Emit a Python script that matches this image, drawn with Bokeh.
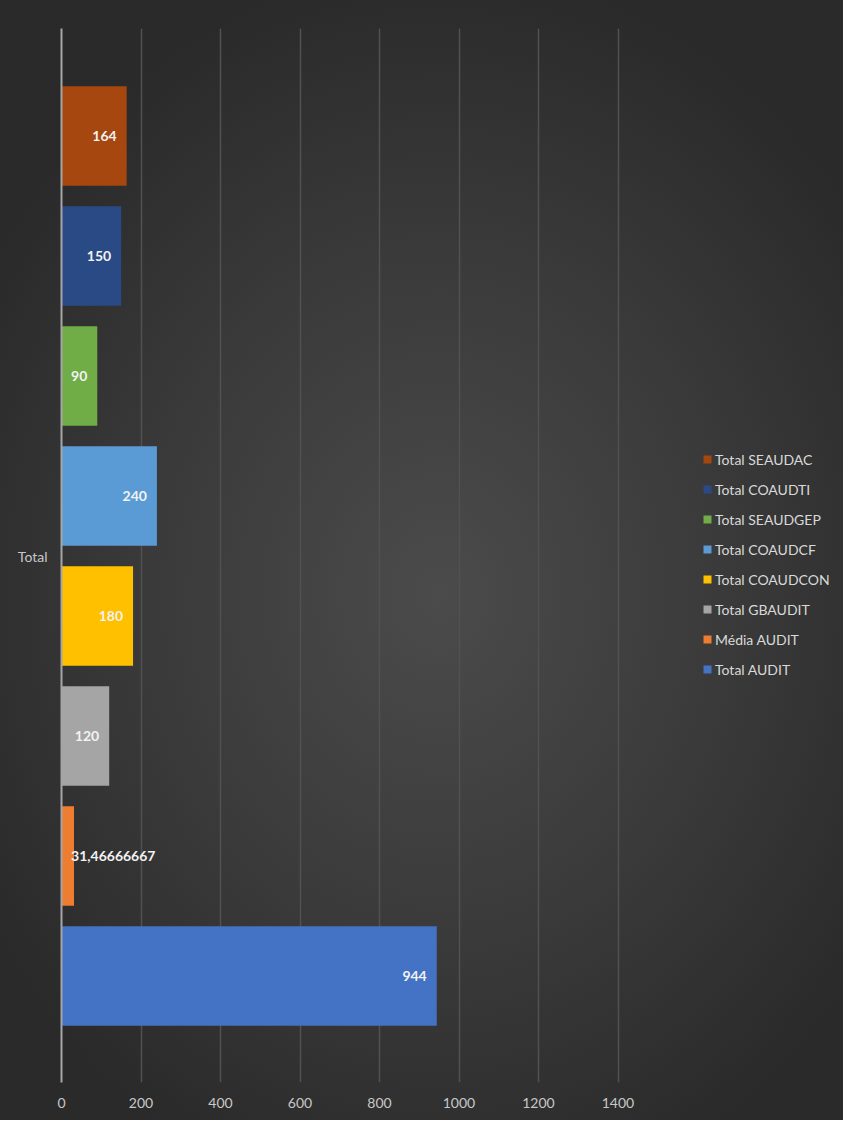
from bokeh.plotting import figure
from bokeh.models import ColumnDataSource, Range1d, FixedTicker, Legend, LegendItem
from bokeh.core.properties import value
from bokeh.embed import file_html
from bokeh.resources import INLINE

# ---- data (legend order, top to bottom) ----
series = ["Total SEAUDAC", "Total COAUDTI", "Total SEAUDGEP", "Total COAUDCF",
          "Total COAUDCON", "Total GBAUDIT", "Média AUDIT", "Total AUDIT"]
values = [164, 150, 90, 240, 180, 120, 31.46666667, 944]
colors = ["#A5470F", "#2A4A86", "#70AD47", "#5B9BD5",
          "#FFC000", "#A5A5A5", "#ED7D31", "#4472C4"]
category = "Total"
x_ticks = [0, 200, 400, 600, 800, 1000, 1200, 1400]


def fmt(v):
    s = ("%.8f" % v).rstrip("0").rstrip(".")
    if "." in s:
        ip, fp = s.split(".")
        s = ip + "," + fp[: max(0, 10 - len(ip))]
    return s


idx = list(range(len(series)))
labels = [fmt(v) for v in values]
aligns = ["left" if v < 60 else "right" for v in values]
offsets = [-3 if v < 60 else -10 for v in values]

src = ColumnDataSource(dict(y=idx, v=values, c=colors, name=series,
                            lab=labels, al=aligns, off=offsets))

W, H = 843, 1120
FRAME_LEFT = 61
# frame spans to the right edge so the legend (drawn inside it) is not clipped;
# the scale keeps 200 units ~ 79.5 px like the reference
X_END = (W - FRAME_LEFT) / (79.5 / 200)

p = figure(width=W, height=H, output_backend="svg", toolbar_location=None,
           x_range=Range1d(0, X_END), y_range=Range1d(7.887, -0.896),
           min_border_left=FRAME_LEFT, min_border_right=0, min_border_top=28,
           min_border_bottom=38)

p.styles = {"background-image":
            "radial-gradient(ellipse 62% 56% at 52% 53%, #4b4b4b 0%, #3a3a3a 55%, #2a2a2a 100%)"}
p.border_fill_alpha = 0
p.background_fill_alpha = 0
p.outline_line_color = None

bars = p.hbar(y="y", left=0, right="v", height=0.83, fill_color="c",
              line_color=None, source=src)

p.text(x="v", y="y", text="lab", text_align="al", x_offset="off",
       text_baseline="middle", text_color="#f2f2f2", text_font=value("Lato"),
       text_font_size="14px", text_font_style="bold", source=src)

# axes
xa = p.xaxis[0]
xa.ticker = FixedTicker(ticks=x_ticks)
xa.axis_line_color = None
xa.major_tick_line_color = None
xa.minor_tick_line_color = None
xa.major_tick_out = 0
xa.major_tick_in = 0
xa.major_label_standoff = 15
xa.major_label_text_color = "#c8c8c8"
xa.major_label_text_font = "Lato"
xa.major_label_text_font_size = "14px"

ya = p.yaxis[0]
ya.ticker = FixedTicker(ticks=[3.5])
ya.major_label_overrides = {3.5: category}
ya.axis_line_color = "#a6a6a6"
ya.axis_line_width = 2
ya.major_tick_line_color = None
ya.minor_tick_line_color = None
ya.major_tick_out = 0
ya.major_tick_in = 0
ya.major_label_standoff = 14
ya.major_label_text_color = "#c8c8c8"
ya.major_label_text_font = "Lato"
ya.major_label_text_font_size = "14px"

p.xgrid.ticker = FixedTicker(ticks=x_ticks[1:])
p.xgrid.grid_line_color = "#515151"
p.xgrid.grid_line_width = 1.5
p.ygrid.grid_line_color = None

# legend
items = [LegendItem(label=s, renderers=[bars], index=i) for i, s in enumerate(series)]
leg = Legend(items=items, location=(641, 403), orientation="vertical",
             glyph_width=10, glyph_height=10, label_height=20, spacing=10,
             label_standoff=3, padding=0, margin=0,
             label_text_font="Lato", label_text_font_size="14px",
             label_text_color="#d9d9d9",
             background_fill_alpha=0, border_line_color=None)
p.add_layout(leg, "center")

open("out.html", "w").write(file_html(p, INLINE))
